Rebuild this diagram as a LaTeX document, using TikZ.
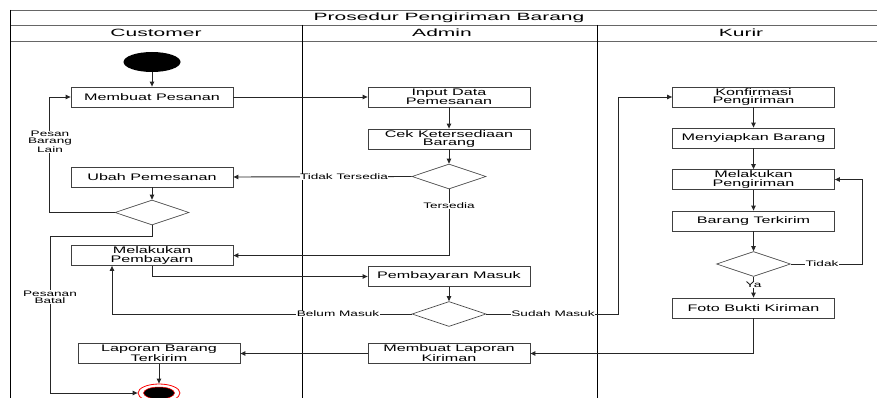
\documentclass[tikz,border=0pt]{standalone}
\usepackage{fontspec}
\usetikzlibrary{arrows.meta,shapes.geometric}
\newfontfamily\bodyfont[FakeStretch=1.7]{Liberation Sans}
\newfontfamily\headfont[FakeStretch=2.0]{Liberation Sans}

\begin{document}
\begin{tikzpicture}[x=1pt,y=-1pt,
  box/.style={draw=black!75, fill=white, line width=0.8pt, minimum width=162pt,
    minimum height=20pt, inner sep=1pt, align=center,
    font=\bodyfont\fontsize{9.5}{8.5}\selectfont},
  decision/.style={diamond, draw=black!70, fill=white, line width=0.7pt,
    minimum width=74pt, minimum height=25pt, inner sep=0pt},
  flow/.style={draw=black!85, line width=0.9pt, -{Triangle[length=5pt,width=4.5pt]}},
  lbl/.style={fill=white, inner sep=0.5pt, align=center,
    font=\bodyfont\fontsize{8}{7}\selectfont},
  head/.style={font=\headfont\fontsize{10.5}{12}\selectfont, inner sep=0pt},
  frame/.style={draw=black!60, line width=0.7pt},
  lane/.style={draw=black, line width=1pt}
]
\useasboundingbox (0,0) rectangle (877,398);

% swimlane frame
\draw[frame] (10,10) -- (877,10);
\draw[frame] (10,25) -- (877,25);
\draw[frame] (10,41) -- (877,41);
\draw[lane] (10,10) -- (10,398);
\draw[lane] (302,25) -- (302,398);
\draw[lane] (597,25) -- (597,398);

\node[head] (title) at (449,17.5) {Prosedur Pengiriman Barang};
\node[head] (hcust) at (156,33) {Customer};
\node[head] (hadmin) at (442,33) {Admin};
\node[head] (hkurir) at (741,33) {Kurir};

% Customer lane
\node[ellipse, fill=black, minimum width=57pt, minimum height=20pt, inner sep=0pt] (start) at (152,62) {};
\node[box] (mp) at (152,97) {Membuat Pesanan};
\node[box] (ubah) at (152,177) {Ubah Pemesanan};
\node[decision] (d1) at (152,212.5) {};
\node[box] (mpb) at (152,255.5) {Melakukan\\Pembayarn};
\node[box] (lap) at (159,353.5) {Laporan Barang\\Terkirim};
\node[ellipse, draw=red, line width=0.8pt, fill=white, minimum width=42pt, minimum height=18pt, inner sep=0pt] (endo) at (159,393) {};
\node[ellipse, draw=red, line width=0.5pt, fill=black, minimum width=31pt, minimum height=12pt, inner sep=0pt] (endi) at (159,393) {};

% Admin lane
\node[box] (inp) at (449,97) {Input Data\\Pemesanan};
\node[box] (cek) at (449,139) {Cek Ketersediaan\\Barang};
\node[decision] (d2) at (449,176.5) {};
\node[box] (pm) at (449,276.5) {Pembayaran Masuk};
\node[decision] (d3) at (449,314) {};
\node[box] (mlk) at (449,353.5) {Membuat Laporan\\Kiriman};

% Kurir lane
\node[box] (konf) at (753.5,97) {Konfirmasi\\Pengiriman};
\node[box] (siap) at (753.5,138) {Menyiapkan Barang};
\node[box] (kirim) at (753.5,179.5) {Melakukan\\Pengiriman};
\node[box] (trkm) at (753.5,221) {Barang Terkirim};
\node[decision] (d4) at (753.5,264) {};
\node[box] (foto) at (753.5,308) {Foto Bukti Kiriman};

% connectors
\draw[flow] (start) -- (mp);
\draw[flow] (mp.east) -- (inp.west);
\draw[flow] (inp) -- (cek);
\draw[flow] (cek) -- (d2);
\draw[flow] (d2.west) -- (ubah.east);
\draw[flow] (d2.south) |- (mpb.east);
\draw[flow] (ubah) -- (d1);
\draw[flow] (d1.west) -- ++(-65,0) |- (mp.west);
\draw[flow] (d1.south) -- ++(0,11) -- ++(-102,0) |- (endo.west);
\draw[flow] (mpb.south) |- (pm.west);
\draw[flow] (pm) -- (d3);
\draw[flow] (d3.west) -| ([xshift=-40pt]mpb.south);
\draw[flow] (d3.east) -- ++(132,0) |- (konf.west);
\draw[flow] (konf) -- (siap);
\draw[flow] (siap) -- (kirim);
\draw[flow] (kirim) -- (trkm);
\draw[flow] (trkm) -- (d4);
\draw[flow] (d4.east) -- ++(72,0) |- (kirim.east);
\draw[flow] (d4) -- (foto);
\draw[flow] (foto.south) |- (mlk.east);
\draw[flow] (mlk.west) -- (lap.east);
\draw[flow] (lap) -- (endo);

% guard labels
\node[lbl] (lpbl) at (50,142) {Pesan\\Barang\\Lain};
\node[lbl] (lbatal) at (50,297) {Pesanan\\Batal};
\node[lbl] (ltt) at (344,177) {Tidak Tersedia};
\node[lbl] (lts) at (449,206) {Tersedia};
\node[lbl] (lbm) at (338,314) {Belum Masuk};
\node[lbl] (lsm) at (553,314) {Sudah Masuk};
\node[lbl] (ltdk) at (822,264) {Tidak};
\node[lbl] (lya) at (753.5,285) {Ya};
\end{tikzpicture}
\end{document}
